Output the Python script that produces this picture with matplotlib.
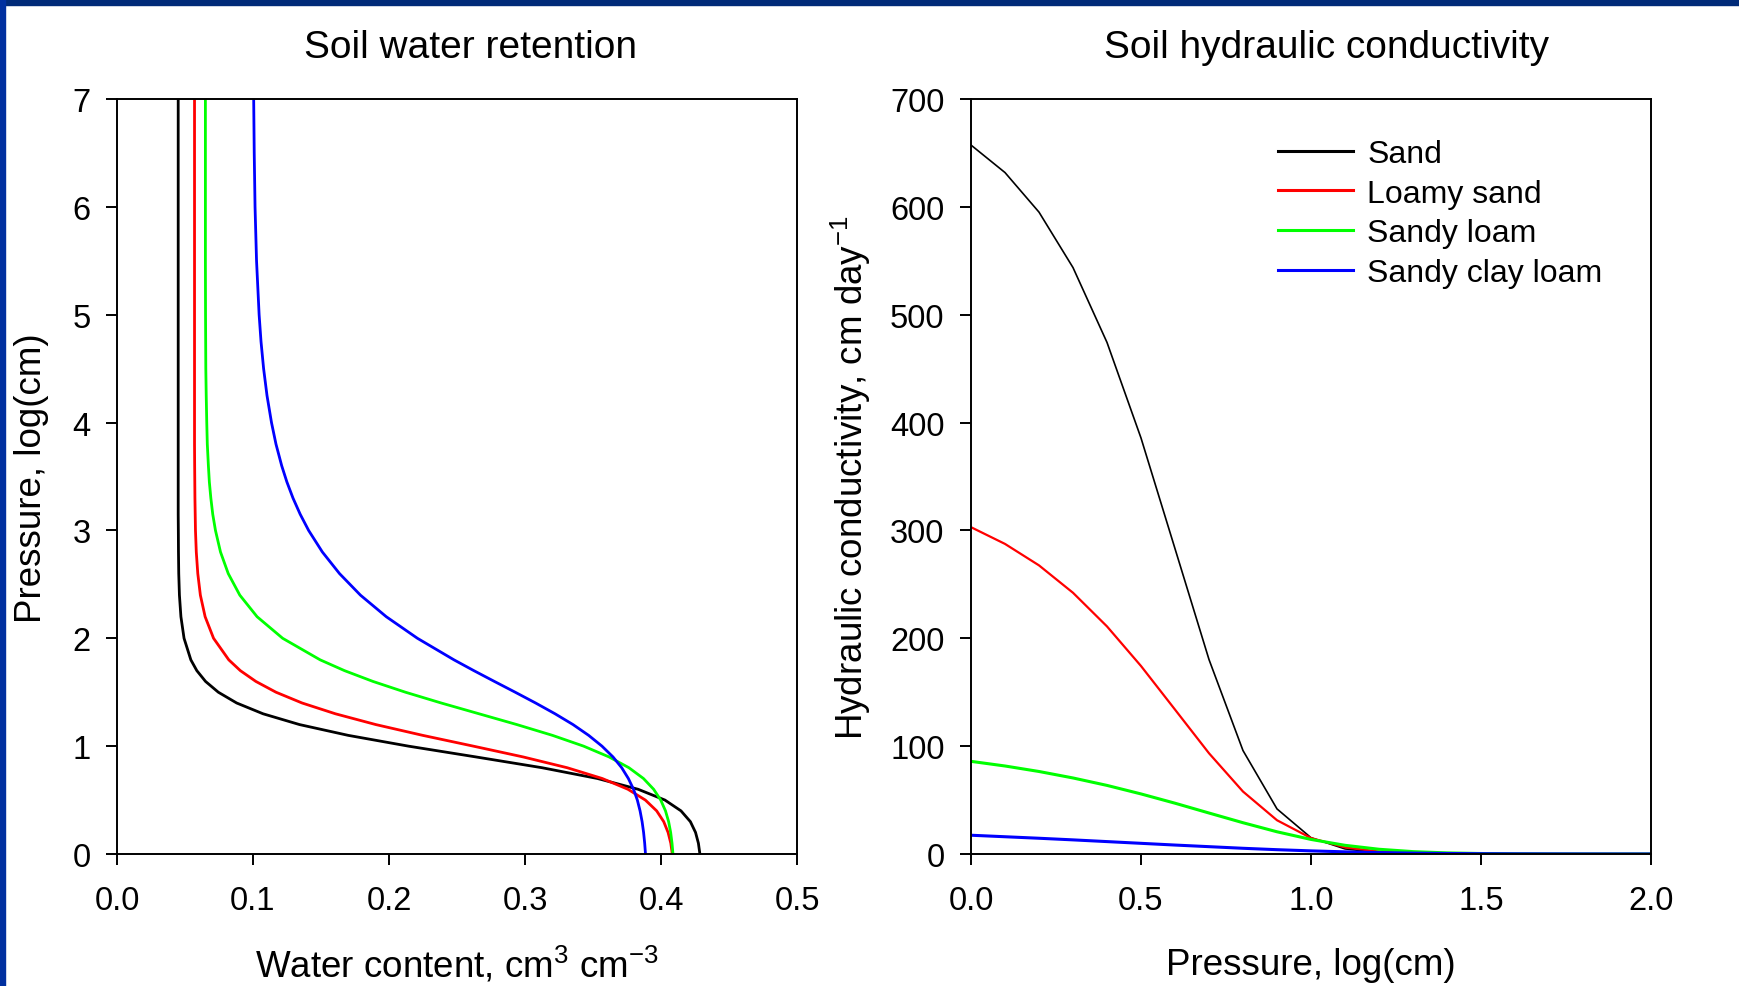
import matplotlib
matplotlib.use("Agg")
import matplotlib.pyplot as plt
from matplotlib.patches import Rectangle
from matplotlib.ticker import FormatStrFormatter, MultipleLocator

plt.rcParams['font.family'] = ['Liberation Sans', 'DejaVu Sans']
plt.rcParams['mathtext.fontset'] = 'custom'
plt.rcParams['mathtext.rm'] = 'Liberation Sans'
plt.rcParams['mathtext.it'] = 'Liberation Sans:italic'

soils = ["Sand", "Loamy sand", "Sandy loam", "Sandy clay loam"]
colors = ["#000000", "#ff0000", "#00ff00", "#0000ff"]

# retention curves: pressure (log cm) vs water content
pressure = [0, 0.1, 0.2, 0.3, 0.4, 0.5, 0.6, 0.7, 0.8, 0.9, 1.0, 1.1, 1.2, 1.3, 1.4, 1.5,
            1.6, 1.7, 1.8, 2.0, 2.2, 2.4, 2.6, 2.8, 3.0, 3.15, 3.3, 3.45, 3.6, 3.8, 4.0,
            4.25, 4.5, 4.75, 5.0, 5.5, 6.0, 6.5, 7.0]
theta_sand = [.4286, .4275, .4254, .4216, .4147, .4029, .3832, .3533, .3125, .2639, .2143,
              .1700, .1342, .1074, .0880, .0745, .0651, .0587, .0543, .0493, .0470, .0459,
              .0454, .0452, .0451, .0450, .0450, .0450, .0450, .0450, .0450,
              .0450, .0450, .0450, .0450, .0450, .0450, .0450, .0450]
theta_loamy_sand = [.4083, .4072, .4052, .4020, .3968, .3885, .3757, .3568, .3310, .2986, .2620,
                    .2248, .1903, .1606, .1361, .1169, .1021, .0907, .0822, .0710, .0648, .0613,
                    .0594, .0583, .0577, .0575, .0573, .0572, .0571, .0570, .0570,
                    .0570, .0570, .0570, .0570, .0570, .0570, .0570, .0570]
theta_sandy_loam = [.4088, .4081, .4071, .4056, .4033, .3998, .3946, .3871, .3764, .3618, .3431,
                    .3202, .2940, .2662, .2384, .2121, .1882, .1673, .1494, .1218, .1030, .0903,
                    .0818, .0761, .0724, .0704, .0690, .0679, .0672, .0664, .0660,
                    .0656, .0653, .0652, .0651, .0650, .0650, .0650, .0650]
theta_sandy_clay_loam = [.3886, .3880, .3872, .3861, .3846, .3826, .3798, .3760, .3711, .3647, .3566,
                         .3468, .3353, .3221, .3078, .2928, .2775, .2624, .2478, .2209, .1980, .1790,
                         .1636, .1510, .1409, .1347, .1294, .1249, .1211, .1169, .1136,
                         .1103, .1078, .1059, .1045, .1026, .1015, .1009, .1005]

# conductivity curves: pressure (log cm) vs K (cm/day)
pressure_k = [0, 0.1, 0.2, 0.3, 0.4, 0.5, 0.6, 0.7, 0.8, 0.9, 1.0,
              1.1, 1.2, 1.3, 1.4, 1.5, 1.6, 1.7, 1.8, 1.9, 2.0]
k_sand = [657.3, 631.8, 595.1, 543.7, 474.3, 385.7, 283.1, 180.3, 95.9, 41.8, 15.1,
          4.71, 1.32, 0.35, 0.09, 0.02, 0.005, 0, 0, 0, 0]
k_loamy_sand = [303.0, 287.5, 267.6, 242.2, 211.0, 174.3, 133.9, 93.4, 57.9, 31.3, 14.8,
                6.13, 2.29, 0.80, 0.26, 0.08, 0.025, 0.007, 0.002, 0, 0]
k_sandy_loam = [85.9, 81.6, 76.5, 70.5, 63.6, 55.7, 47.1, 38.0, 29.0, 20.6, 13.5,
                8.06, 4.40, 2.21, 1.03, 0.45, 0.19, 0.08, 0.03, 0.013, 0.005]
k_sandy_clay_loam = [17.4, 16.0, 14.6, 13.1, 11.5, 9.9, 8.3, 6.8, 5.3, 4.0, 2.9,
                     2.0, 1.3, 0.81, 0.48, 0.28, 0.16, 0.09, 0.05, 0.03, 0.015]

thetas = [theta_sand, theta_loamy_sand, theta_sandy_loam, theta_sandy_clay_loam]
ks = [k_sand, k_loamy_sand, k_sandy_loam, k_sandy_clay_loam]
k_widths = [1.2, 1.6, 2.2, 2.2]

W, H = 1740, 987
fig = plt.figure(figsize=(W / 100, H / 100), dpi=100)

# blue frame on top and left
fig.add_artist(Rectangle((0, 1 - 6 / H), 1, 6 / H, transform=fig.transFigure,
                         color="#002a78", zorder=10))
fig.add_artist(Rectangle((0, 0), 5 / W, 1, transform=fig.transFigure,
                         color="#0030a0", zorder=10))

ax1 = fig.add_axes([117 / W, (H - 855) / H, 680 / W, 755 / H])
ax2 = fig.add_axes([971 / W, (H - 855) / H, 680 / W, 755 / H])

for th, c in zip(thetas, colors):
    ax1.plot(th, pressure, color=c, lw=2.0)
ax1.set_xlim(0, 0.5)
ax1.set_ylim(0, 7)
ax1.xaxis.set_major_locator(MultipleLocator(0.1))
ax1.xaxis.set_major_formatter(FormatStrFormatter('%.1f'))
ax1.yaxis.set_major_locator(MultipleLocator(1))

for k, c, lw, name in zip(ks, colors, k_widths, soils):
    ax2.plot(pressure_k, k, color=c, lw=lw, label=name)
ax2.set_xlim(0, 2)
ax2.set_ylim(0, 700)
ax2.xaxis.set_major_locator(MultipleLocator(0.5))
ax2.xaxis.set_major_formatter(FormatStrFormatter('%.1f'))
ax2.yaxis.set_major_locator(MultipleLocator(100))

for ax in (ax1, ax2):
    for s in ax.spines.values():
        s.set_linewidth(1.4)
    ax.tick_params(direction='out', length=8, width=1.4, labelsize=23.5)
    ax.tick_params(axis='x', pad=14)
    ax.tick_params(axis='y', pad=11)

leg = ax2.legend(loc='upper left', bbox_to_anchor=(0.451, 0.947), frameon=False,
                 fontsize=23, borderpad=0, borderaxespad=0, handlelength=2.35,
                 handletextpad=0.45, labelspacing=0.3)
for line in leg.get_lines():
    line.set_linewidth(2.2)

fig.text(471 / W, 1 - 58 / H, "Soil water retention", fontsize=28, ha='center', va='baseline')
fig.text(1327 / W, 1 - 58 / H, "Soil hydraulic conductivity", fontsize=28, ha='center', va='baseline')
fig.text(457 / W, 1 - 978 / H, r"Water content, cm$^{3}$ cm$^{-3}$", fontsize=26.5,
         ha='center', va='baseline')
fig.text(1311 / W, 1 - 975 / H, "Pressure, log(cm)", fontsize=26.5, ha='center', va='baseline')
fig.text(32 / W, 1 - 478 / H, "Pressure, log(cm)", fontsize=26.5, rotation=90,
         ha='center', va='center')
fig.text(851 / W, 1 - 478 / H, r"Hydraulic conductivity, cm day$^{-1}$", fontsize=26.5,
         rotation=90, ha='center', va='center')

fig.savefig("out.png", dpi=100)
